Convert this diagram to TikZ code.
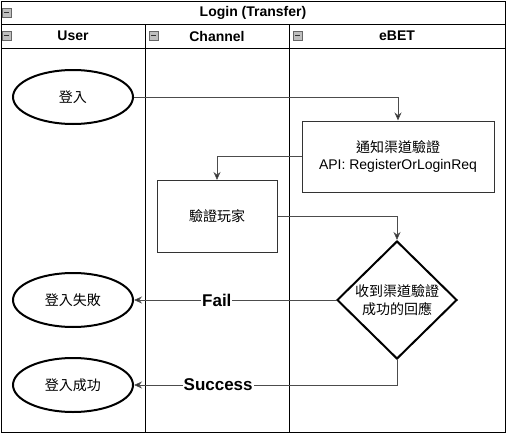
\documentclass[tikz,border=0pt]{standalone}
\usepackage{fontspec}
\setmainfont{Liberation Sans}
\newfontfamily\cjk{Noto Sans CJK TC}
\usetikzlibrary{arrows.meta,shapes,positioning}

\begin{document}
\begin{tikzpicture}[
        x=1pt, y=-1pt,
        every node/.style={font=\fontsize{14}{17}\selectfont},
        head/.style={font=\fontsize{14}{17}\selectfont\bfseries},
        terminal/.style={ellipse, draw, line width=2pt, minimum width=120pt, minimum height=54pt, font=\fontsize{14}{17}\selectfont\cjk},
        action/.style={rectangle, draw=black!80, line width=1pt, align=center},
        decision/.style={diamond, draw, line width=2pt, inner sep=0pt, minimum width=120pt, minimum height=118pt, align=center, font=\fontsize{14}{18}\selectfont\cjk},
        flow/.style={draw=black!70, line width=1pt, -{Stealth[length=8pt,width=7pt,fill=black]}},
        result/.style={fill=white, inner sep=1pt, font=\fontsize{17}{20}\selectfont\bfseries},
        fold/.style={draw=black!60, fill=black!25, line width=0.6pt}
    ]
        \useasboundingbox (0,0) rectangle (507,434);

        \draw[line width=1pt] (1,1) rectangle (505,432);
        \draw[line width=1pt] (1,24) -- (505,24);
        \draw[line width=1pt] (1,48) -- (505,48);
        \draw[line width=1pt] (145,24) -- (145,432);
        \draw[line width=1pt] (289,24) -- (289,432);

        \foreach \fx/\fy in {2/8, 2/31, 149/31, 293/31} {
            \draw[fold] (\fx,\fy) rectangle +(9,9);
            \draw[black!80, line width=1pt] (\fx+2,\fy+4.5) -- +(5,0);
        }

        \node[head] (title) at (253,12.5) {Login (Transfer)};
        \node[head] (user) at (73,36) {User};
        \node[head] (channel) at (217,36) {Channel};
        \node[head] (ebet) at (397,36) {eBET};

        \node[terminal] (login) at (73,97) {登入};
        \node[action, minimum width=192pt, minimum height=71pt] (notify) at (398,156.5) {{\cjk 通知渠道驗證}\\API: RegisterOrLoginReq};
        \node[action, minimum width=120pt, minimum height=72pt, font=\fontsize{14}{17}\selectfont\cjk] (verify) at (217,216.5) {驗證玩家};
        \node[decision] (reply) at (397,300) {收到渠道驗證\\成功的回應};
        \node[terminal] (fail) at (73,300) {登入失敗};
        \node[terminal] (success) at (73,385) {登入成功};

        \path[flow]
            (login.east) -| (notify.north);
        \path[flow]
            (notify.west) -| (verify.north);
        \path[flow]
            (verify.east) -| (reply.north);
        \path[flow]
            (reply.west) -- node[result, pos=0.59] {Fail} (fail.east);
        \path[flow]
            (reply.south) |- node[result, pos=0.84] {Success} (success.east);
    \end{tikzpicture}
\end{document}
